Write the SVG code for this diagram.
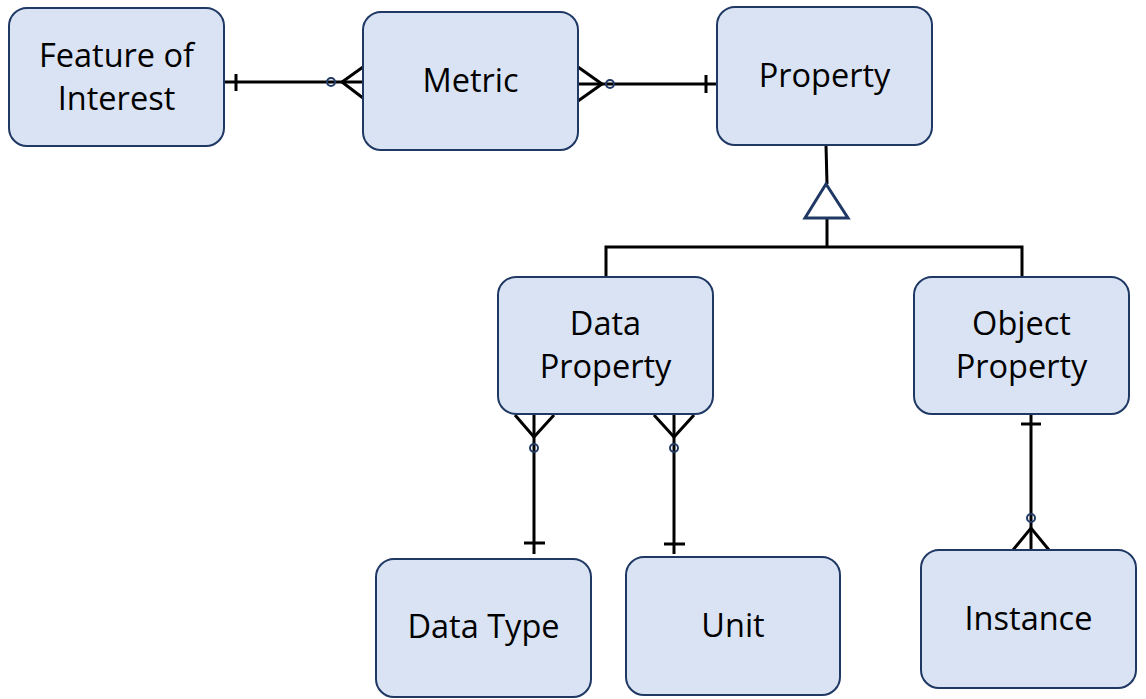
<svg xmlns="http://www.w3.org/2000/svg" width="1146" height="699" viewBox="0 0 1146 699">
<style>
.box{fill:#dae3f3;stroke:#1f3864;stroke-width:2}
.lbl{font-family:"Open Sans","Liberation Sans",sans-serif;font-size:32.5px;fill:#000;text-anchor:middle}
.ln{fill:none;stroke:#000;stroke-width:3}
.circ{fill:none;stroke:#1f3864;stroke-width:2}
.tri{fill:#fff;stroke:#1f3864;stroke-width:3}
</style>
<rect width="1146" height="699" fill="#fff"/>
<g id="connectors">
  <!-- Feature of Interest - Metric -->
  <line class="ln" x1="224" y1="82" x2="363" y2="82"/>
  <line class="ln" x1="236" y1="74" x2="236" y2="91"/>
  <polyline class="ln" points="363,67 342,82 363,98"/>
  <circle class="circ" cx="331" cy="82" r="4"/>
  <!-- Metric - Property -->
  <line class="ln" x1="578" y1="84" x2="717" y2="84"/>
  <polyline class="ln" points="578,67 602,84 578,101"/>
  <circle class="circ" cx="610" cy="84" r="4"/>
  <line class="ln" x1="706" y1="75" x2="706" y2="93"/>
  <!-- Data Property - Data Type -->
  <line class="ln" x1="534" y1="414" x2="534" y2="554"/>
  <polyline class="ln" points="515,415 534,437 554,415"/>
  <circle class="circ" cx="534" cy="448" r="4"/>
  <line class="ln" x1="524" y1="543" x2="545" y2="543"/>
  <!-- Data Property - Unit -->
  <line class="ln" x1="674" y1="414" x2="674" y2="554"/>
  <polyline class="ln" points="654,415 674,437 694,415"/>
  <circle class="circ" cx="674" cy="448" r="4"/>
  <line class="ln" x1="664" y1="544" x2="685" y2="544"/>
  <!-- Object Property - Instance -->
  <line class="ln" x1="1031" y1="414" x2="1031" y2="550"/>
  <line class="ln" x1="1021" y1="424" x2="1041" y2="424"/>
  <circle class="circ" cx="1031" cy="518" r="4"/>
  <polyline class="ln" points="1013,550 1031,528 1049,550"/>
  <!-- Inheritance -->
  <line class="ln" x1="826" y1="145" x2="827" y2="184"/>
  <line class="ln" x1="827" y1="218" x2="827" y2="247"/>
  <polyline class="ln" points="606,277 606,247 1022,247 1022,277"/>
  <polygon class="tri" points="826,184 805,218 848,218"/>
</g>
<g id="feature-of-interest">
  <rect class="box" x="9" y="8" width="215" height="138" rx="18"/>
  <text class="lbl" x="116.5" y="67">Feature of</text>
  <text class="lbl" x="116.5" y="110">Interest</text>
</g>
<g id="metric">
  <rect class="box" x="363" y="12" width="215" height="138" rx="18"/>
  <text class="lbl" x="470.5" y="92">Metric</text>
</g>
<g id="property">
  <rect class="box" x="717" y="7" width="215" height="138" rx="18"/>
  <text class="lbl" x="824.5" y="87">Property</text>
</g>
<g id="data-property">
  <rect class="box" x="498" y="277" width="215" height="137" rx="18"/>
  <text class="lbl" x="605.5" y="335">Data</text>
  <text class="lbl" x="605.5" y="378">Property</text>
</g>
<g id="object-property">
  <rect class="box" x="914" y="277" width="215" height="137" rx="18"/>
  <text class="lbl" x="1021.5" y="335">Object</text>
  <text class="lbl" x="1021.5" y="378">Property</text>
</g>
<g id="data-type">
  <rect class="box" x="376" y="559" width="215" height="138" rx="18"/>
  <text class="lbl" x="483.5" y="638">Data Type</text>
</g>
<g id="unit">
  <rect class="box" x="626" y="557" width="214" height="138" rx="18"/>
  <text class="lbl" x="733" y="637">Unit</text>
</g>
<g id="instance">
  <rect class="box" x="921" y="550" width="215" height="138" rx="18"/>
  <text class="lbl" x="1028.5" y="630">Instance</text>
</g>
</svg>
